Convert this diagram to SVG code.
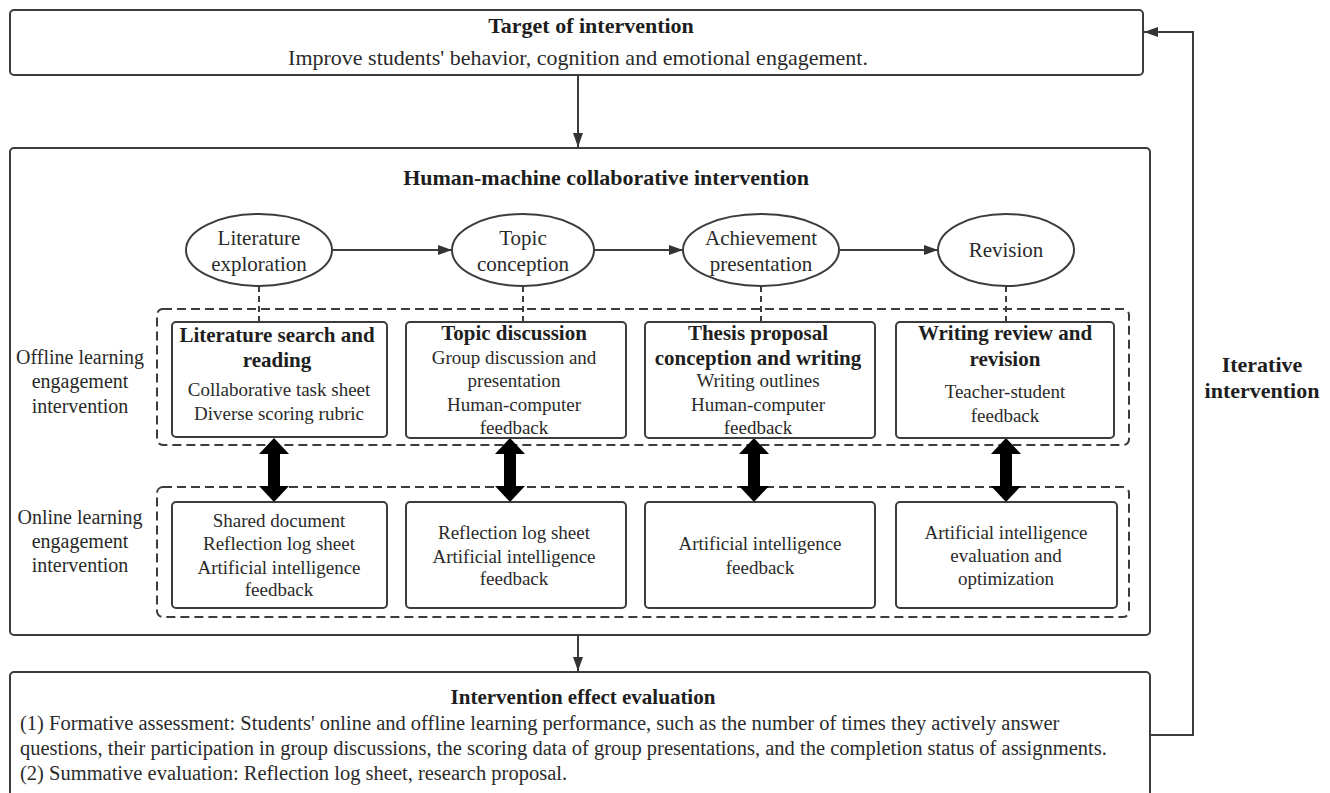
<svg xmlns="http://www.w3.org/2000/svg" width="1330" height="793" viewBox="0 0 1330 793">
<defs>
<marker id="ah" markerWidth="14" markerHeight="10" refX="14" refY="5" orient="auto" markerUnits="userSpaceOnUse"><path d="M0,0 L14,5 L0,10 z" fill="#333"/></marker>
</defs>
<style>
.box{fill:#fff;stroke:#3c3c3c;stroke-width:2}
.dash{fill:none;stroke:#3c3c3c;stroke-width:2;stroke-dasharray:9 5}
.t{font-family:"Liberation Serif","Times New Roman",serif;font-size:19px;fill:#2a2a2a;text-anchor:middle}
.l{text-anchor:start}
.b{font-weight:bold;font-size:21px;fill:#1e1e1e}
.bt{font-size:22px}
.e{font-size:21px}
.s{font-size:20px}
.ev{font-size:20.5px}
.ln{stroke:#3c3c3c;stroke-width:2;fill:none}
.dl{stroke:#3c3c3c;stroke-width:2;fill:none;stroke-dasharray:6 4}
.dbl{fill:#000}
</style>
<rect width="1330" height="793" fill="#fff"/>

<g id="target">
<rect class="box" x="10" y="10" width="1133" height="65" rx="4"/>
<text class="t b bt" x="591" y="33">Target of intervention</text>
<text class="t bt" x="578" y="65">Improve students' behavior, cognition and emotional engagement.</text>
</g>

<g id="hm-intervention">
<rect class="box" x="10" y="148" width="1140" height="487" rx="4"/>
<text class="t b bt" x="606" y="185">Human-machine collaborative intervention</text>
</g>

<g id="offline-group">
<rect class="dash" x="157" y="309" width="972" height="136" rx="6"/>
<text class="t s" x="80" y="364">Offline learning</text>
<text class="t s" x="80" y="388">engagement</text>
<text class="t s" x="80" y="413">intervention</text>
</g>
<g id="online-group">
<rect class="dash" x="157" y="487" width="972" height="130" rx="6"/>
<text class="t s" x="80" y="524">Online learning</text>
<text class="t s" x="80" y="548">engagement</text>
<text class="t s" x="80" y="572">intervention</text>
</g>

<g id="connectors">
<line class="ln" x1="578" y1="76" x2="578" y2="147" marker-end="url(#ah)"/>
<line class="ln" x1="332" y1="250" x2="452" y2="250" marker-end="url(#ah)"/>
<line class="ln" x1="594" y1="250" x2="683" y2="250" marker-end="url(#ah)"/>
<line class="ln" x1="840" y1="250" x2="938" y2="250" marker-end="url(#ah)"/>
<line class="dl" x1="259" y1="286" x2="259" y2="322"/>
<line class="dl" x1="523" y1="286" x2="523" y2="322"/>
<line class="dl" x1="761" y1="286" x2="761" y2="322"/>
<line class="dl" x1="1006" y1="286" x2="1006" y2="322"/>
<line class="ln" x1="578" y1="636" x2="578" y2="671" marker-end="url(#ah)"/>
<path class="ln" d="M1150,735 H1193 V32 H1144" marker-end="url(#ah)"/>
<polygon class="dbl" points="274,438 289,454 280,454 280,486 289,486 274,502 259,486 268,486 268,454 259,454"/>
<polygon class="dbl" points="510,438 525,454 516,454 516,486 525,486 510,502 495,486 504,486 504,454 495,454"/>
<polygon class="dbl" points="754,438 769,454 760,454 760,486 769,486 754,502 739,486 748,486 748,454 739,454"/>
<polygon class="dbl" points="1006,438 1021,454 1012,454 1012,486 1021,486 1006,502 991,486 1000,486 1000,454 991,454"/>
</g>

<g id="ell-literature">
<ellipse class="box" cx="259" cy="250" rx="73" ry="36"/>
<text class="t e" x="259" y="245">Literature</text>
<text class="t e" x="259" y="271">exploration</text>
</g>
<g id="ell-topic">
<ellipse class="box" cx="523" cy="250" rx="71" ry="36"/>
<text class="t e" x="523" y="245">Topic</text>
<text class="t e" x="523" y="271">conception</text>
</g>
<g id="ell-achievement">
<ellipse class="box" cx="761" cy="250" rx="78" ry="36"/>
<text class="t e" x="761" y="245">Achievement</text>
<text class="t e" x="761" y="271">presentation</text>
</g>
<g id="ell-revision">
<ellipse class="box" cx="1006" cy="250" rx="68" ry="36"/>
<text class="t e" x="1006" y="257">Revision</text>
</g>

<g id="off-1">
<rect class="box" x="172" y="322" width="215" height="115" rx="4"/>
<text class="t b" x="277" y="342">Literature search and</text>
<text class="t b" x="277" y="367">reading</text>
<text class="t" x="279" y="396">Collaborative task sheet</text>
<text class="t" x="279" y="420">Diverse scoring rubric</text>
</g>
<g id="off-2">
<rect class="box" x="406" y="322" width="220" height="116" rx="4"/>
<text class="t b" x="514" y="340">Topic discussion</text>
<text class="t" x="514" y="364">Group discussion and</text>
<text class="t" x="514" y="387">presentation</text>
<text class="t" x="514" y="411">Human-computer</text>
<text class="t" x="514" y="434">feedback</text>
</g>
<g id="off-3">
<rect class="box" x="645" y="322" width="230" height="116" rx="4"/>
<text class="t b" x="758" y="340">Thesis proposal</text>
<text class="t b" x="758" y="365">conception and writing</text>
<text class="t" x="758" y="387">Writing outlines</text>
<text class="t" x="758" y="411">Human-computer</text>
<text class="t" x="758" y="434">feedback</text>
</g>
<g id="off-4">
<rect class="box" x="896" y="322" width="218" height="116" rx="4"/>
<text class="t b" x="1005" y="340">Writing review and</text>
<text class="t b" x="1005" y="366">revision</text>
<text class="t" x="1005" y="398">Teacher-student</text>
<text class="t" x="1005" y="422">feedback</text>
</g>

<g id="on-1">
<rect class="box" x="172" y="502" width="215" height="106" rx="4"/>
<text class="t" x="279" y="527">Shared document</text>
<text class="t" x="279" y="550">Reflection log sheet</text>
<text class="t" x="279" y="574">Artificial intelligence</text>
<text class="t" x="279" y="596">feedback</text>
</g>
<g id="on-2">
<rect class="box" x="406" y="502" width="220" height="106" rx="4"/>
<text class="t" x="514" y="539">Reflection log sheet</text>
<text class="t" x="514" y="563">Artificial intelligence</text>
<text class="t" x="514" y="585">feedback</text>
</g>
<g id="on-3">
<rect class="box" x="645" y="502" width="230" height="106" rx="4"/>
<text class="t" x="760" y="550">Artificial intelligence</text>
<text class="t" x="760" y="574">feedback</text>
</g>
<g id="on-4">
<rect class="box" x="896" y="502" width="221" height="106" rx="4"/>
<text class="t" x="1006" y="539">Artificial intelligence</text>
<text class="t" x="1006" y="562">evaluation and</text>
<text class="t" x="1006" y="585">optimization</text>
</g>

<g id="evaluation">
<rect class="box" x="10" y="672" width="1140" height="140" rx="4"/>
<text class="t b" x="583" y="704">Intervention effect evaluation</text>
<text class="t ev l" x="20" y="730">(1) Formative assessment: Students' online and offline learning performance, such as the number of times they actively answer</text>
<text class="t ev l" x="20" y="755">questions, their participation in group discussions, the scoring data of group presentations, and the completion status of assignments.</text>
<text class="t ev l" x="20" y="780">(2) Summative evaluation: Reflection log sheet, research proposal.</text>
</g>

<g id="iterative-label">
<text class="t b bt" x="1262" y="372">Iterative</text>
<text class="t b bt" x="1262" y="398">intervention</text>
</g>
</svg>
